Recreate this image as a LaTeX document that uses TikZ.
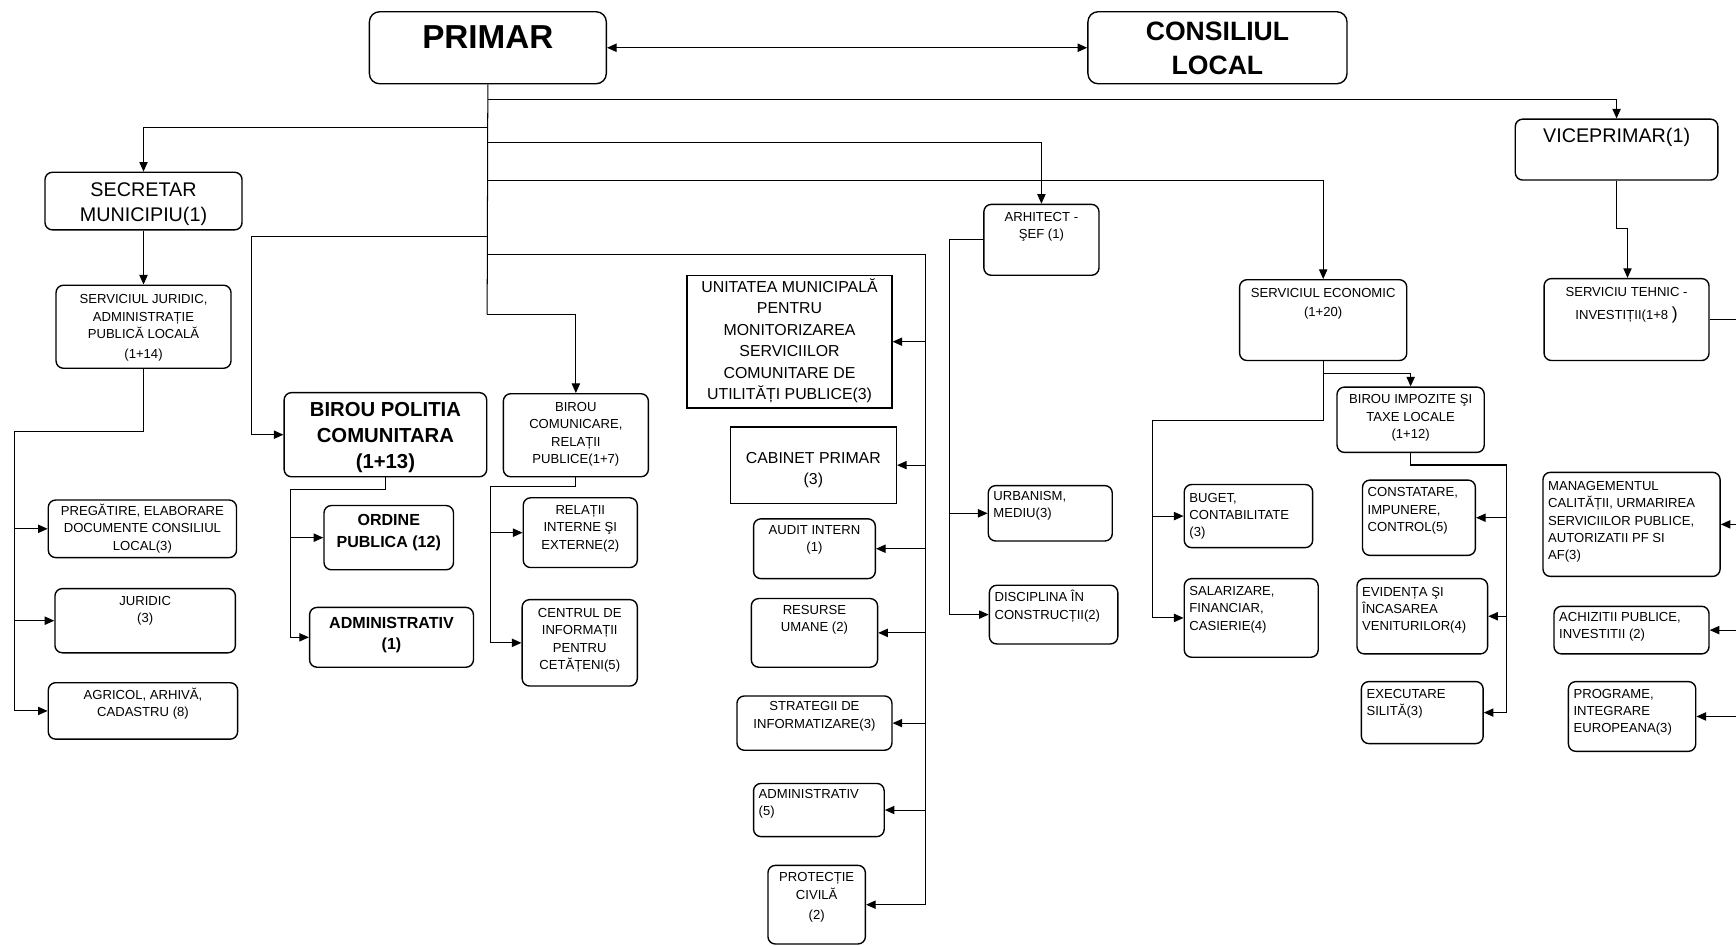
\documentclass[tikz,border=0pt]{standalone}
\usepackage{fontspec}
\setmainfont{Liberation Sans}
\usetikzlibrary{arrows.meta}

\newcommand{\fsmall}{\fontsize{7.1}{9.4}\selectfont}
\newcommand{\fmid}{\fontsize{8.6}{11.7}\selectfont}
\newcommand{\fsec}{\fontsize{10.7}{13.5}\selectfont}
\newcommand{\fboldmid}{\bfseries\fontsize{8.7}{11.8}\selectfont}
\newcommand{\fboldbig}{\bfseries\fontsize{11}{14.1}\selectfont}
\newcommand{\unitpad}{2.4pt}
\newcommand{\unitalign}{\centering}

\tikzset{
    % caseta organigramei: latimea si inaltimea in pixeli, textul sus
    unit/.style 2 args={
        draw, line width=0.75pt, rounded corners=4pt, inner sep=0pt,
        anchor=north west, font=\fsmall,
        execute at begin node={\begin{minipage}[t][\dimexpr0.6pt*#2\relax][t]{\dimexpr0.6pt*#1\relax}\vspace*{\unitpad}\unitalign\strut},
        execute at end node={\end{minipage}}
    },
    toppad/.code={\def\unitpad{#1}},
    flushleft/.code={\def\unitalign{\raggedright\leftskip=2.8pt}},
    square/.style={sharp corners},
    link/.style={line width=0.55pt},
    arr/.style={link, -{Triangle[length=5.2pt,width=4.5pt]}},
    arrboth/.style={link, {Triangle[length=5.2pt,width=4.5pt]}-{Triangle[length=5.2pt,width=4.5pt]}}
}

\begin{document}
\begin{tikzpicture}[x=0.6pt, y=-0.6pt]
    \useasboundingbox (0,0) rectangle (1568,854);
    \clip (0,0) rectangle (1568,854);

    % --- 1. Conducerea ---
    \node[unit={214}{65}, rounded corners=5.5pt, font=\bfseries\fontsize{18}{21.6}\selectfont, toppad=4.7pt] (primar) at (333,10) {PRIMAR};
    \node[unit={234}{65}, rounded corners=5.5pt, font=\bfseries\fontsize{14.4}{18}\selectfont, toppad=3.2pt] (consiliul) at (982,10) {CONSILIUL\\LOCAL};
    \node[unit={178}{52}, font=\fsec, toppad=3.6pt] (secretar) at (40,155) {SECRETAR\\MUNICIPIU(1)};
    \node[unit={183}{55}, font=\fsec, toppad=3.2pt] (vice) at (1368,107) {VICEPRIMAR(1)};

    % --- 2. Secretar ---
    \node[unit={158}{75}, toppad=3.5pt] (jur) at (50,257) {SERVICIUL JURIDIC,\\ADMINISTRAȚIE\\PUBLICĂ LOCALĂ\\[1.2pt](1+14)};
    \node[unit={170}{52}, toppad=1.8pt] (pregatire) at (43,451) {PREGĂTIRE, ELABORARE\\DOCUMENTE CONSILIUL\\LOCAL(3)};
    \node[unit={163}{58}] (juridic) at (49,531) {JURIDIC\\(3)};
    \node[unit={171}{51}] (agricol) at (43,616) {AGRICOL, ARHIVĂ,\\CADASTRU (8)};

    % --- 3. Politia si comunicare ---
    \node[unit={183}{76}, font=\fboldbig, toppad=3.1pt] (birpol) at (256,354) {BIROU POLITIA\\COMUNITARA\\(1+13)};
    \node[unit={117}{58}, font=\fboldmid, toppad=2.4pt] (ordine) at (292,456) {ORDINE\\PUBLICA (12)};
    \node[unit={148}{54}, font=\fboldmid, toppad=2.9pt] (admin1) at (279,548) {ADMINISTRATIV\\(1)};
    \node[unit={131}{75}, toppad=3pt] (comunicare) at (454,355) {BIROU\\COMUNICARE,\\RELAȚII\\PUBLICE(1+7)};
    \node[unit={103}{63}] (relatii) at (472,449) {RELAȚII\\INTERNE ŞI\\EXTERNE(2)};
    \node[unit={104}{78}, toppad=3.1pt] (centrul) at (471,541) {CENTRUL DE\\INFORMAȚII\\PENTRU\\CETĂȚENI(5)};

    % --- 4. Compartimente direct subordonate ---
    \node[unit={185}{120}, square, font=\fmid, toppad=0.9pt] (unitatea) at (620,248) {UNITATEA MUNICIPALĂ\\PENTRU\\MONITORIZAREA\\SERVICIILOR\\COMUNITARE DE\\UTILITĂȚI PUBLICE(3)};
    \node[unit={150}{69}, square, font=\fmid, toppad=11.4pt] (cabinet) at (659,385) {CABINET PRIMAR\\(3)};
    \node[unit={110}{54}, toppad=1.9pt] (audit) at (680,468) {AUDIT INTERN\\(1)};
    \node[unit={114}{62}, toppad=2.1pt] (resurse) at (678,540) {RESURSE\\UMANE (2)};
    \node[unit={140}{49}, toppad=1.4pt] (strategii) at (665,628) {STRATEGII DE\\INFORMATIZARE(3)};
    \node[unit={118}{48}, flushleft, toppad=1.6pt] (admin5) at (680,707) {ADMINISTRATIV\\(5)};
    \node[unit={88}{71}] (protectie) at (693,781) {PROTECȚIE\\CIVILĂ\\[1.5pt](2)};

    % --- 5. Arhitect-sef ---
    \node[unit={104}{64}, toppad=2.6pt] (arhitect) at (888,184) {ARHITECT -\\ŞEF (1)};
    \node[unit={112}{50}, flushleft, toppad=1.4pt] (urbanism) at (892,438) {URBANISM,\\MEDIU(3)};
    \node[unit={116}{53}, flushleft] (disciplina) at (893,528) {DISCIPLINA ÎN\\CONSTRUCȚII(2)};

    % --- 6. Serviciul economic ---
    \node[unit={151}{73}, toppad=2.9pt] (econ) at (1119,252) {SERVICIUL ECONOMIC\\[1pt](1+20)};
    \node[unit={133}{59}] (impozite) at (1207,349) {BIROU IMPOZITE ŞI\\TAXE LOCALE\\(1+12)};
    \node[unit={116}{57}, flushleft, toppad=3pt] (buget) at (1069,437) {BUGET,\\CONTABILITATE\\(3)};
    \node[unit={121}{71}, flushleft, toppad=2.6pt] (salarizare) at (1069,522) {SALARIZARE,\\FINANCIAR,\\CASIERIE(4)};
    \node[unit={102}{68}, flushleft] (constatare) at (1230,433) {CONSTATARE,\\IMPUNERE,\\CONTROL(5)};
    \node[unit={118}{68}, flushleft, toppad=3pt] (evidenta) at (1225,522) {EVIDENȚA ŞI\\ÎNCASAREA\\VENITURILOR(4)};
    \node[unit={110}{56}, flushleft] (executare) at (1229,615) {EXECUTARE\\SILITĂ(3)};

    % --- 7. Serviciul tehnic ---
    \node[unit={149}{74}, toppad=3pt] (tehnic) at (1394,251) {SERVICIU TEHNIC -\\[2pt]INVESTIȚII(1+8 {\fontsize{9.5}{9.4}\selectfont)}};
    \node[unit={160}{94}, flushleft, toppad=3.2pt] (management) at (1393,426) {MANAGEMENTUL\\CALITĂȚII, URMARIREA\\SERVICIILOR PUBLICE,\\AUTORIZATII PF SI\\AF(3)};
    \node[unit={140}{43}, flushleft, toppad=1.6pt] (achizitii) at (1403,547) {ACHIZITII PUBLICE,\\INVESTITII (2)};
    \node[unit={115}{63}, flushleft] (programe) at (1416,615) {PROGRAME,\\INTEGRARE\\EUROPEANA(3)};

    % --- 8. Legaturi ---
    \draw[arrboth] (primar.east) -- (consiliul.west);
    \coordinate (trunk) at (440,284);
    \draw[link] (primar.south) -- (trunk);
    \draw[arr] (primar.south |- 0,90) -| (vice.north);
    \draw[arr] (primar.south |- 0,115) -| (secretar.north);
    \draw[arr] (primar.south |- 0,129) -| (arhitect.north);
    \draw[arr] (primar.south |- 0,163) -| (econ.north);
    \draw[arr] (trunk) -| (comunicare.north);

    \coordinate (polbus) at (227,214);
    \draw[arr] (primar.south |- polbus) -- (polbus) |- (birpol.west);

    \coordinate (cabbus) at (836,230);
    \draw[link] (primar.south |- cabbus) -- (cabbus) -- (cabbus |- protectie.east);
    \foreach \u in {unitatea,cabinet,audit,resurse,strategii,admin5,protectie}
        \draw[arr] (cabbus |- \u.east) -- (\u.east);

    \draw[arr] (secretar.south) -- (jur.north);
    \coordinate (jurbus) at (13,390);
    \draw[link] (jur.south) |- (jurbus) -- (jurbus |- agricol.west);
    \foreach \u in {pregatire,juridic,agricol}
        \draw[arr] (jurbus |- \u.west) -- (\u.west);

    \coordinate (polsub) at (262,442);
    \draw[link] (birpol.south) |- (polsub) -- (polsub |- admin1.west);
    \foreach \u in {ordine,admin1}
        \draw[arr] (polsub |- \u.west) -- (\u.west);

    \coordinate (comsub) at (443,439);
    \draw[link] (comunicare.south) |- (comsub) -- (comsub |- centrul.west);
    \foreach \u in {relatii,centrul}
        \draw[arr] (comsub |- \u.west) -- (\u.west);

    \coordinate (arhbus) at (858,0);
    \draw[link] (arhitect.west) -| (arhbus |- disciplina.west);
    \foreach \u in {urbanism,disciplina}
        \draw[arr] (arhbus |- \u.west) -- (\u.west);

    \coordinate (ecojoin) at (1195,337);
    \draw[link] (econ.south) -- (econ.south |- ecojoin);
    \draw[arr] (econ.south |- ecojoin) -| (impozite.north);
    \coordinate (ecobus) at (1041,380);
    \draw[link] (econ.south |- ecojoin) |- (ecobus) -- (ecobus |- salarizare.west);
    \foreach \u in {buget,salarizare}
        \draw[arr] (ecobus |- \u.west) -- (\u.west);

    \coordinate (impbus) at (1361,420);
    \draw[link] (impozite.south) |- (impbus) -- (impbus |- executare.east);
    \foreach \u in {constatare,evidenta,executare}
        \draw[arr] (impbus |- \u.east) -- (\u.east);

    \coordinate (vicejog) at (1470,206);
    \draw[arr] (vice.south) |- (vicejog) -- (vicejog |- tehnic.north);

    \coordinate (tehbus) at (1590,0);
    \draw[link] (tehnic.east) -| (tehbus |- programe.east);
    \foreach \u in {management,achizitii,programe}
        \draw[arr] (tehbus |- \u.east) -- (\u.east);
\end{tikzpicture}
\end{document}
